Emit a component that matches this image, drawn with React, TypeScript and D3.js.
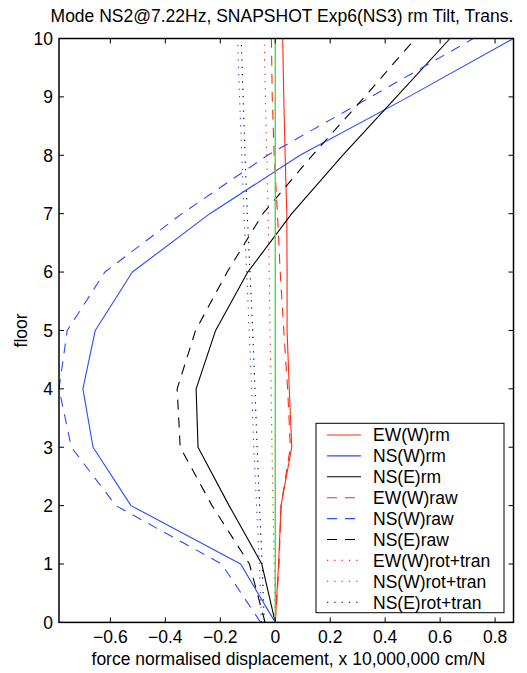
import React from "react";
import * as d3 from "d3";

const floors = [0, 1, 2, 3, 4, 5, 6, 7, 8, 9, 10];
const ewWRm = [0, 0.012, 0.021, 0.06, 0.051, 0.043, 0.043, 0.042, 0.036, 0.031, 0.027];
const nsWRm = [0, -0.126, -0.525, -0.663, -0.7, -0.655, -0.52, -0.238, 0.09, 0.485, 0.867];
const nsERm = [0, -0.049, -0.168, -0.281, -0.288, -0.217, -0.1, 0.06, 0.245, 0.441, 0.636];
const ewWRaw = [0, 0.014, 0.021, 0.055, 0.045, 0.031, 0.018, 0.008, -0.004, -0.011, -0.014];
const nsWRaw = [-0.053, -0.195, -0.58, -0.742, -0.787, -0.757, -0.62, -0.34, -0.028, 0.348, 0.721];
const nsERaw = [-0.037, -0.094, -0.23, -0.346, -0.357, -0.29, -0.175, -0.045, 0.135, 0.325, 0.51];
const ewWRot = [0, -0.004, -0.008, -0.012, -0.015, -0.019, -0.022, -0.026, -0.031, -0.036, -0.04];
const nsWRot = [-0.05, -0.058, -0.068, -0.078, -0.086, -0.095, -0.104, -0.114, -0.122, -0.13, -0.137];
const nsERot = [-0.04, -0.048, -0.057, -0.066, -0.074, -0.082, -0.092, -0.102, -0.11, -0.117, -0.124];
const zeroLineX = [0, 0];
const zeroLineY = [0, 10];

const xTicks = [-0.6, -0.4, -0.2, 0, 0.2, 0.4, 0.6, 0.8];
const yTicks = [0, 1, 2, 3, 4, 5, 6, 7, 8, 9, 10];

const title = "Mode NS2@7.22Hz, SNAPSHOT Exp6(NS3) rm Tilt, Trans.";
const xLabel = "force normalised displacement, x 10,000,000 cm/N";
const yLabel = "floor";

const RED = "#ff2a10";
const BLUE = "#2a4bff";
const BLACK = "#000000";
const GREEN = "#44dd44";

const series = [
  { name: "EW(W)rm", values: ewWRm, color: RED, dash: null },
  { name: "NS(W)rm", values: nsWRm, color: BLUE, dash: null },
  { name: "NS(E)rm", values: nsERm, color: BLACK, dash: null },
  { name: "EW(W)raw", values: ewWRaw, color: RED, dash: "10,8" },
  { name: "NS(W)raw", values: nsWRaw, color: BLUE, dash: "10,8" },
  { name: "NS(E)raw", values: nsERaw, color: BLACK, dash: "10,8" },
  { name: "EW(W)rot+tran", values: ewWRot, color: RED, dash: "1.3,6" },
  { name: "NS(W)rot+tran", values: nsWRot, color: BLUE, dash: "1.3,6" },
  { name: "NS(E)rot+tran", values: nsERot, color: BLACK, dash: "1.3,6" },
];

const FONT = "'Liberation Sans', Arial, Helvetica, sans-serif";
const FS = 17.5;

export default function App() {
  const W = 527;
  const H = 673;
  const left = 59;
  const right = 513.5;
  const top = 38.5;
  const bottom = 622.4;

  const allVals = series.flatMap((s) => s.values);
  const [xmin, xmax] = d3.extent(allVals) as [number, number];
  const x = d3.scaleLinear().domain([xmin, xmax]).range([left, right]);
  const y = d3.scaleLinear().domain([0, 10]).range([bottom, top]);

  const line = d3
    .line<number>()
    .x((d) => x(d))
    .y((_, i) => y(floors[i]));

  const zeroLine = d3
    .line<number>()
    .x((d) => x(d))
    .y((_, i) => y(zeroLineY[i]));

  const fmt = (v: number) => {
    const s = v === 0 ? "0" : d3.format(".1f")(Math.abs(v));
    return v < 0 ? "\u2212" + s : s;
  };

  const tickLen = 5;
  const legLeft = 316;
  const legRight = 504;
  const legTop = 423.3;
  const legBottom = 612.7;
  const rowY0 = 435;
  const rowStep = 20.9;

  return (
    <svg
      width={W}
      height={H}
      style={{ position: "absolute", left: 0, top: 0, background: "#fff" }}
      fontFamily={FONT}
    >
      <rect x={0} y={0} width={W} height={H} fill="#fff" />
      {/* data */}
      <g fill="none" strokeLinejoin="round">
        {series.map((s) => (
          <path
            key={s.name}
            d={line(s.values) || ""}
            stroke={s.color}
            strokeWidth={1.1}
            strokeDasharray={s.dash || undefined}
          />
        ))}
        <path d={zeroLine(zeroLineX) || ""} stroke={GREEN} strokeWidth={1.4} />
      </g>
      {/* axes box */}
      <g stroke="#000" strokeWidth={1}>
        {xTicks.map((t) => (
          <g key={"xt" + t}>
            <line x1={x(t)} x2={x(t)} y1={bottom} y2={bottom - tickLen} />
            <line x1={x(t)} x2={x(t)} y1={top} y2={top + tickLen} />
          </g>
        ))}
        {yTicks.map((t) => (
          <g key={"yt" + t}>
            <line x1={left} x2={left + tickLen} y1={y(t)} y2={y(t)} />
            <line x1={right} x2={right - tickLen} y1={y(t)} y2={y(t)} />
          </g>
        ))}
      </g>
      <rect
        x={left}
        y={top}
        width={right - left}
        height={bottom - top}
        fill="none"
        stroke="#000"
        strokeWidth={1.5}
      />
      {/* tick labels */}
      <g fontSize={FS} fill="#000">
        {xTicks.map((t) => (
          <text key={"xl" + t} x={x(t)} y={643} textAnchor="middle">
            {fmt(t)}
          </text>
        ))}
        {yTicks.map((t) => (
          <text key={"yl" + t} x={53} y={y(t) + 6.3} textAnchor="end">
            {t}
          </text>
        ))}
      </g>
      {/* labels */}
      <text x={282} y={22} fontSize={FS} textAnchor="middle">
        {title}
      </text>
      <text x={288.5} y={664.5} fontSize={FS} textAnchor="middle">
        {xLabel}
      </text>
      <text
        x={0}
        y={0}
        fontSize={FS}
        textAnchor="middle"
        transform={`translate(27,${(top + bottom) / 2}) rotate(-90)`}
      >
        {yLabel}
      </text>
      {/* legend */}
      <rect
        x={legLeft}
        y={legTop}
        width={legRight - legLeft}
        height={legBottom - legTop}
        fill="#fff"
        stroke="#000"
        strokeWidth={1}
      />
      {series.map((s, i) => {
        const cy = rowY0 + i * rowStep;
        return (
          <g key={"lg" + s.name}>
            <line
              x1={327}
              x2={361}
              y1={cy}
              y2={cy}
              stroke={s.color}
              strokeWidth={1.1}
              strokeDasharray={s.dash || undefined}
            />
            <text x={373} y={cy + 6.3} fontSize={FS} fill="#000">
              {s.name}
            </text>
          </g>
        );
      })}
    </svg>
  );
}
